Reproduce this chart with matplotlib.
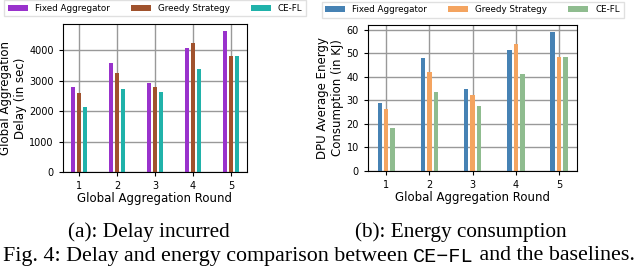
import matplotlib.pyplot as plt
import numpy as np

rounds = [1, 2, 3, 4, 5]
series = ['Fixed Aggregator', 'Greedy Strategy', 'CE-FL']

delay_fixed = [2800, 3580, 2910, 4080, 4630]
delay_greedy = [2590, 3240, 2790, 4240, 3800]
delay_cefl = [2140, 2730, 2640, 3390, 3800]

energy_fixed = [28.9, 48.1, 34.7, 51.3, 59.1]
energy_greedy = [26.1, 42.0, 32.1, 53.8, 48.5]
energy_cefl = [18.3, 33.4, 27.6, 41.1, 48.5]

colors_a = ['darkorchid', 'sienna', 'lightseagreen']
colors_b = ['steelblue', 'sandybrown', 'darkseagreen']

fig = plt.figure(figsize=(6.4, 2.73), dpi=100)
axA = fig.add_axes([0.0984, 0.370, 0.2875, 0.542])
axB = fig.add_axes([0.575, 0.374, 0.327, 0.535])

x = np.array(rounds)
w = 0.1
offs = [-0.15, 0, 0.15]


def draw(ax, vals, cols, ylabel):
    for v, c, o, name in zip(vals, cols, offs, series):
        ax.bar(x + o, v, w, color=c, label=name)
    ax.set_axisbelow(True)
    ax.grid(True, color='0.6', linewidth=1)
    ax.set_xticks(rounds)
    ax.tick_params(labelsize=7, length=3)
    ax.set_xlabel('Global Aggregation Round', fontsize=8.5, labelpad=1)
    ax.set_ylabel(ylabel, fontsize=8.5, labelpad=2)
    ax.legend(loc='center', bbox_to_anchor=(0.5, 1.105), ncol=3, fontsize=6.3,
              handlelength=2.3, handleheight=0.7, columnspacing=2.4,
              frameon=True, fancybox=False, edgecolor='0.85', borderpad=0.4)


draw(axA, [delay_fixed, delay_greedy, delay_cefl], colors_a,
     'Global Aggregation\nDelay (in sec)')
axA.set_yticks([0, 1000, 2000, 3000, 4000])
draw(axB, [energy_fixed, energy_greedy, energy_cefl], colors_b,
     'DPU Average Energy\nConsumption (in KJ)')
axB.set_yticks([0, 10, 20, 30, 40, 50, 60])

serif = ['Liberation Serif', 'DejaVu Serif']
fig.text(149 / 640, 1 - 232 / 273, '(a): Delay incurred', ha='center', va='center',
         fontsize=15.3, family=serif)
fig.text(461 / 640, 1 - 232 / 273, '(b): Energy consumption', ha='center', va='center',
         fontsize=15.3, family=serif)

# caption with monospace CE-FL
t1 = fig.text(3 / 640, 1 - 256 / 273, 'Fig. 4: Delay and energy comparison between ',
              ha='left', va='center', fontsize=15.8, family=serif)
fig.canvas.draw()
r = fig.canvas.get_renderer()
bb = t1.get_window_extent(r)
t2 = fig.text(bb.x1 / fig.bbox.width, 1 - 256 / 273, 'CE\u2212FL', ha='left', va='center',
              fontsize=14.5, family=['Liberation Mono', 'DejaVu Sans Mono'])
bb2 = t2.get_window_extent(r)
fig.text(bb2.x1 / fig.bbox.width, 1 - 256 / 273, ' and the baselines.', ha='left', va='center',
         fontsize=15.8, family=serif)

fig.savefig('out.png', dpi=100)
